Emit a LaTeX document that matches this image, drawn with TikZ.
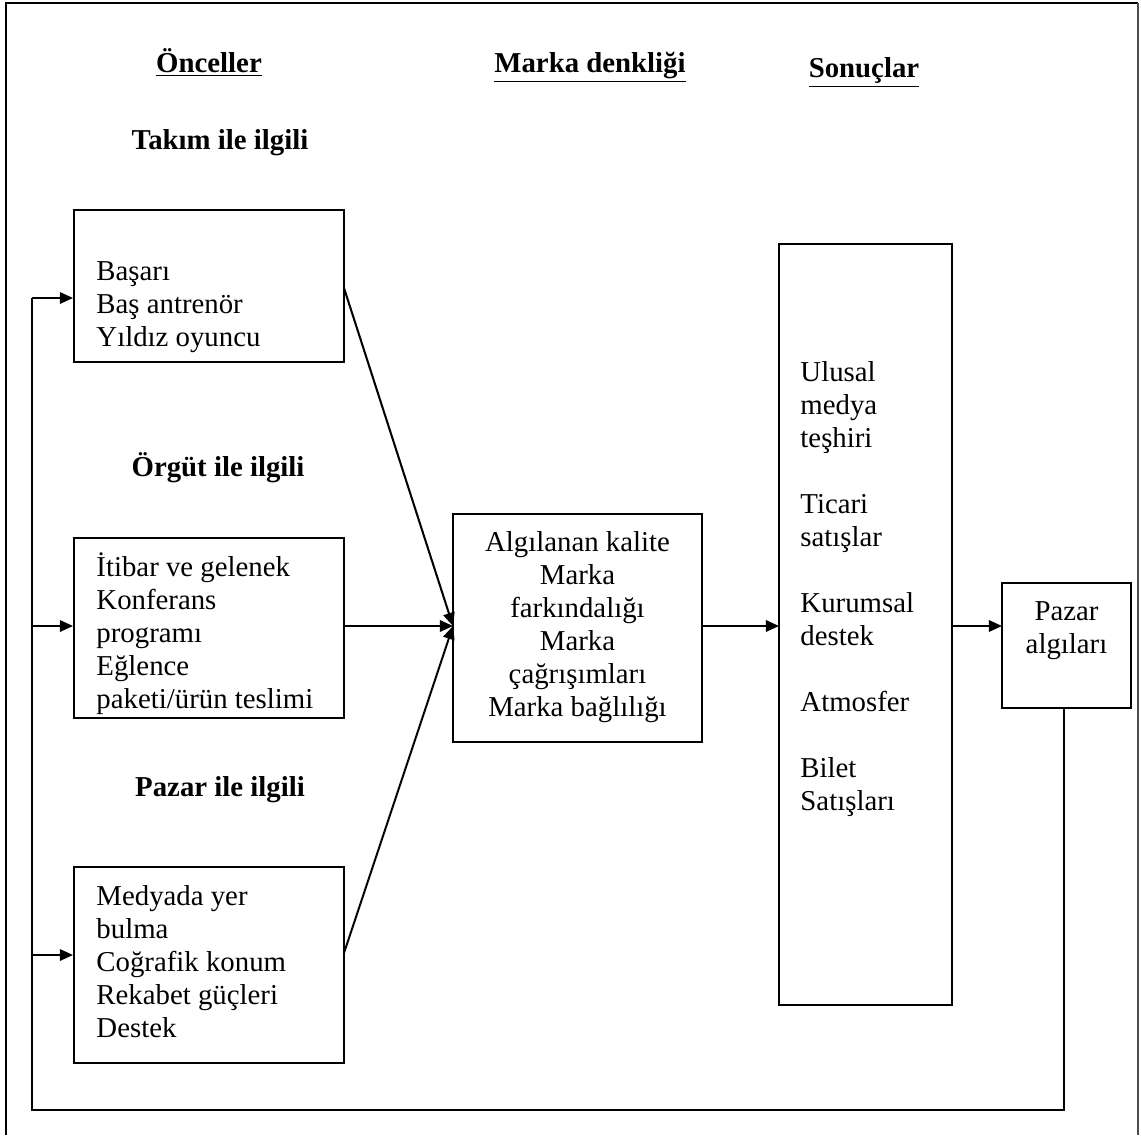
\documentclass[tikz,border=0pt]{standalone}
\usepackage{fontspec}
\setmainfont{Liberation Serif}
\usetikzlibrary{arrows.meta}
\newcommand{\pxu}{0.41667pt}
\begin{document}
\begin{tikzpicture}[x=\pxu, y=-\pxu,
  every node/.style={inner sep=0pt, font=\fontsize{12}{13.75}\selectfont},
  box/.style={draw, line width=0.85pt},
  body/.style={align=left, anchor=north west},
  head/.style={font=\fontsize{12}{13.75}\selectfont\bfseries, anchor=base},
  link/.style={line width=0.85pt},
  arr/.style={line width=0.85pt, -{Triangle[length=5.5pt, width=4.8pt]}}]
\useasboundingbox (0,0) rectangle (1141,1135);
\fill[white] (0,0) rectangle (1141,1135);
% frame
\draw[line width=0.8pt] (6,1135) -- (6,3) -- (1138,3);
\draw[line width=0.5pt, black!70] (1138,3) -- (1138,1135);

% column headings
\node[head] (hA) at (209,72) {\underline{Önceller}};
\node[head] (hB) at (590,72) {\underline{Marka denkliği}};
\node[head] (hC) at (864,77) {\underline{Sonuçlar}};

% group headings
\node[head] (gT) at (220,149) {Takım ile ilgili};
\node[head] (gO) at (218,476) {Örgüt ile ilgili};
\node[head] (gP) at (220,796) {Pazar ile ilgili};

% antecedent boxes
\node[box, minimum width=270*\pxu, minimum height=152*\pxu] (b1) at (209,286) {};
\node[body] (t1) at (96,261) {Başarı\\Baş antrenör\\Yıldız oyuncu};

\node[box, minimum width=270*\pxu, minimum height=180*\pxu] (b2) at (209,628) {};
\node[body] (t2) at (96,552) {İtibar ve gelenek\\Konferans\\programı\\Eğlence\\paketi/ürün teslimi};

\node[box, minimum width=270*\pxu, minimum height=196*\pxu] (b3) at (209,965) {};
\node[body] (t3) at (96,885) {Medyada yer\\bulma\\Coğrafik konum\\Rekabet güçleri\\Destek};

% brand equity box
\node[box, minimum width=249*\pxu, minimum height=228*\pxu] (mid) at (577.5,628) {};
\node[align=center] (tm) at (577.5,627) {Algılanan kalite\\Marka\\farkındalığı\\Marka\\çağrışımları\\Marka bağlılığı};

% outcomes box
\node[box, minimum width=173*\pxu, minimum height=761*\pxu] (out) at (865.5,624.5) {};
\node[body] (to) at (800,361) {Ulusal\\medya\\teşhiri\\[13.75pt]Ticari\\satışlar\\[13.75pt]Kurumsal\\destek\\[13.75pt]Atmosfer\\[13.75pt]Bilet\\Satışları};

% market perceptions box
\node[box, minimum width=129*\pxu, minimum height=125*\pxu] (pz) at (1066.5,645.5) {};
\node[align=center] (tp) at (1066.5,631) {Pazar\\algıları};

% connection points
\coordinate (m1) at (344,288);
\coordinate (m2) at (344,626);
\coordinate (m3) at (344,953);
\coordinate (mi) at (453,626);
\coordinate (oi) at (779,626);
\coordinate (mo) at (702,626);
\coordinate (oo) at (952,626);
\coordinate (pi) at (1002,626);
\coordinate (ps) at (1064,708);
\coordinate (fr) at (1064,1110);
\coordinate (fl) at (32,1110);
\coordinate (j1) at (32,298);
\coordinate (j2) at (32,626);
\coordinate (j3) at (32,955);

% antecedents to brand equity
\draw[arr] (m1) -- (mi);
\draw[arr] (m2) -- (mi);
\draw[arr] (m3) -- (mi);
% brand equity to outcomes to perceptions
\draw[arr] (mo) -- (oi);
\draw[arr] (oo) -- (pi);
% feedback loop
\draw[link] (ps) -- (fr) -- (fl) -- (j1);
\draw[arr] (j1) -- (b1.west |- j1);
\draw[arr] (j2) -- (b2.west |- j2);
\draw[arr] (j3) -- (b3.west |- j3);
\end{tikzpicture}
\end{document}
